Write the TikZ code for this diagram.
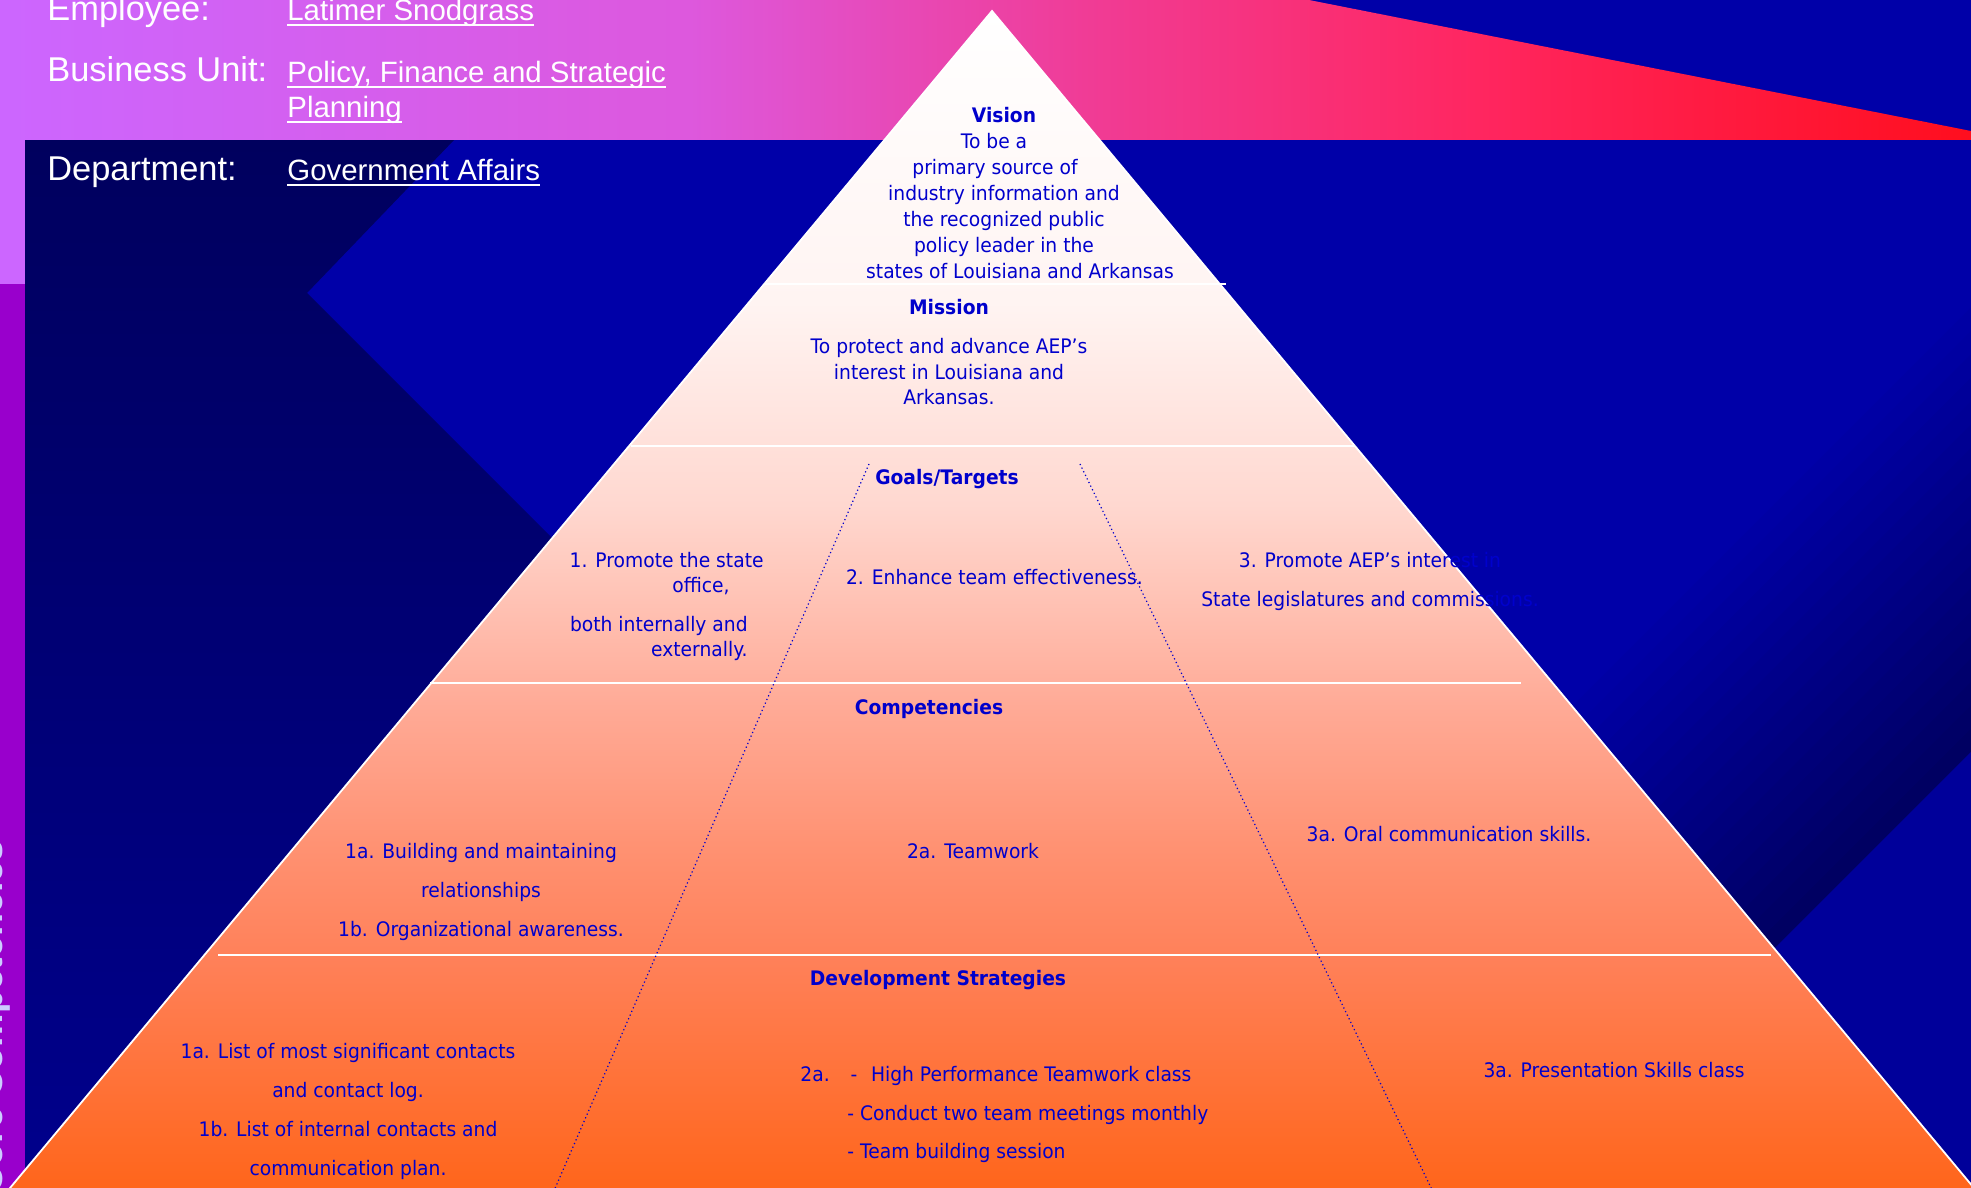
\documentclass[tikz,border=0pt]{standalone}
\usepackage{fontspec}
\usepackage{tikz}
\usetikzlibrary{calc}
\newfontfamily\hdrfont{Liberation Sans}
\newfontfamily\pyrfont{DejaVu Sans}[FakeStretch=0.935]
\definecolor{SlideNavy}{HTML}{0000A8}
\definecolor{SlideDeep}{HTML}{000062}
\definecolor{SlideCorner}{HTML}{00009A}
\definecolor{NavyTop}{HTML}{00005E}
\definecolor{NavyLow}{HTML}{00008C}
\definecolor{BandL}{HTML}{CC66FF}
\definecolor{BandM}{HTML}{DD58DD}
\definecolor{BandH}{HTML}{F03C96}
\definecolor{BandW}{HTML}{FF2660}
\definecolor{BandR}{HTML}{FF0E1E}
\definecolor{StripLite}{HTML}{CC66FF}
\definecolor{StripDark}{HTML}{9900CC}
\definecolor{StripInk}{HTML}{CCCCFF}
\definecolor{PyrC0}{HTML}{FF6418}
\definecolor{PyrC1}{HTML}{FF8058}
\definecolor{PyrC2}{HTML}{FF9070}
\definecolor{PyrC3}{HTML}{FFAA96}
\definecolor{PyrC4}{HTML}{FFD8D0}
\definecolor{PyrC5}{HTML}{FFF4F2}
\definecolor{PyrInk}{HTML}{0000CC}
% tikz fits the 25bp--75bp part of a shading to the path
\pgfdeclarehorizontalshading{bandshade}{100bp}{color(0bp)=(BandL); color(25bp)=(BandL); color(42.5bp)=(BandM); color(52.5bp)=(BandH); color(62.5bp)=(BandW); color(75bp)=(BandR); color(100bp)=(BandR)}
\pgfdeclareverticalshading{pyrshade}{100bp}{color(0bp)=(PyrC0); color(25bp)=(PyrC0); color(35bp)=(PyrC1); color(39.5bp)=(PyrC2); color(45.75bp)=(PyrC3); color(54.25bp)=(PyrC4); color(62.75bp)=(PyrC5); color(75bp)=(white); color(100bp)=(white)}
\newsavebox\hdrbox
\newcommand{\hdrline}[1]{\sbox\hdrbox{#1}\rlap{\rule[-2.3pt]{\wd\hdrbox}{1pt}}\usebox\hdrbox}

\begin{document}
\begin{tikzpicture}[x=0.5pt, y=-0.5pt,
  hdrtxt/.style={font=\hdrfont\fontsize{14.7}{17}\selectfont, text=white, inner sep=0pt, anchor=base west},
  hdrlbl/.style={hdrtxt, font=\hdrfont\fontsize{17.2}{19}\selectfont},
  tiertitle/.style={font=\pyrfont\bfseries\fontsize{10}{13}\selectfont, text=PyrInk, inner sep=0pt, anchor=base},
  tiertxt/.style={font=\pyrfont\fontsize{10}{13}\selectfont, text=PyrInk, inner sep=0pt, anchor=base},
  tierblock/.style={font=\pyrfont\fontsize{10}{#1}\selectfont, text=PyrInk, inner sep=0pt, align=center, anchor=north},
  tiersep/.style={white, line width=1pt},
  colsplit/.style={PyrInk, line width=0.6pt, dash pattern=on 0.6pt off 1.4pt}]
  \useasboundingbox (0,0) rectangle (1971,1188);
  \clip (0,0) rectangle (1971,1188);
  % slide background
  \fill[SlideNavy] (0,0) rectangle (1971,1188);
  % dark wash on the right, in thin diagonal bands
  \begin{scope}
    \clip (990,140) rectangle (1971,1188);
    \foreach \k in {0,...,19}{
      \pgfmathsetmacro\ca{2723-23.4*\k}
      \pgfmathsetmacro\cb{\ca-24.4}
      \pgfmathsetmacro\mx{100-100*\k/19}
      \fill[SlideDeep!\mx!SlideNavy] (\ca+300,-300) -- (\ca-1500,1500) -- (\cb-1500,1500) -- (\cb+300,-300) -- cycle;
    }
  \end{scope}
  \fill[SlideCorner] (1971,752) -- (1971,1188) -- (1535,1188) -- cycle;
  % dark wedge on the left
  \shade[top color=NavyTop, bottom color=NavyLow] (25,140) -- (454,140) -- (307,293) -- (1202,1188) -- (25,1188) -- cycle;
  % title band
  \shade[shading=bandshade] (0,0) -- (1309,0) -- (1971,131) -- (1971,140) -- (0,140) -- cycle;
  % side strip
  \fill[StripLite] (0,140) rectangle (25,284);
  \fill[StripDark] (0,284) rectangle (25,1188);
  \node[rotate=90, anchor=base east, inner sep=0pt, text=StripInk, font=\hdrfont\bfseries\fontsize{18.8}{20}\selectfont] (striptitle) at (3,840) {Core Competencies};

  % pyramid
  \coordinate (apex) at (992,11);
  \coordinate (baseL) at (0,1200);
  \coordinate (baseR) at (1984,1200);
  \shade[shading=pyrshade] (apex) -- (baseR) -- (baseL) -- cycle;
  \draw[white, line width=0.9pt] (baseL) -- (apex) -- (baseR);
  % tier separators
  \draw[tiersep] (764,284) -- (1226,284);
  \draw[tiersep] (631,446) -- (1355,446);
  \draw[tiersep] (430,683) -- (1521,683);
  \draw[tiersep] (218,955) -- (1771,955);
  % column splits
  \coordinate (splitLtop) at (869,464);
  \coordinate (splitLbot) at (550,1200);
  \coordinate (splitRtop) at (1080,464);
  \coordinate (splitRbot) at (1437,1200);
  \draw[colsplit] (splitLtop) -- (splitLbot);
  \draw[colsplit] (splitRtop) -- (splitRbot);

  % vision and mission
  \node[tierblock=13] (vision) at (1004,104) {\strut\textbf{Vision}\\To be a\rule{10pt}{0pt}\\primary source of\rule{9pt}{0pt}\\industry information and\\the recognized public\\policy leader in the\\\hspace*{16pt}states of Louisiana and Arkansas};
  \node[tiertitle] (missionttl) at (949,314.5) {Mission};
  \node[tierblock=12.75] (mission) at (949,335.7) {\strut To protect and advance AEP’s\\interest in Louisiana and\\Arkansas.};
  % goals
  \node[tiertitle] (goalsttl) at (947,484.5) {Goals/Targets};
  \node[tierblock=12.5, align=right, anchor=north east] (goalA) at (764,550) {\strut 1. Promote the state\\office,\rule{17pt}{0pt}};
  \node[tierblock=12.5, align=right, anchor=north east] (goalAb) at (748,614) {\strut both internally and\\externally.};
  \node[tiertxt] (goalB) at (994.5,584.5) {2. Enhance team effectiveness.};
  \node[tierblock=19.5] (goalC) at (1370,540.2) {\strut 3. Promote AEP’s interest in\\State legislatures and commissions.};
  % competencies
  \node[tiertitle] (compttl) at (929,714.5) {Competencies};
  \node[tierblock=19.5] (compA) at (481,831.2) {\strut 1a. Building and maintaining\\relationships\\1b. Organizational awareness.};
  \node[tiertxt] (compB) at (973,858.5) {2a. Teamwork};
  \node[tiertxt] (compC) at (1449,841.5) {3a. Oral communication skills.};
  % development strategies
  \node[tiertitle] (devttl) at (938,985.5) {Development Strategies};
  \node[tierblock=19.4] (devA) at (348,1031.2) {\strut 1a. List of most significant contacts\\and contact log.\\1b. List of internal contacts and\\communication plan.};
  \node[tierblock=19.25, align=left, anchor=north west] (devB) at (800,1054.5) {\strut 2a.\hspace{10.4pt}-\hspace{6.9pt}High Performance Teamwork class\\\hspace*{23.5pt}- Conduct two team meetings monthly\\\hspace*{23.5pt}- Team building session};
  \node[tiertxt] (devC) at (1614,1077.5) {3a. Presentation Skills class};

  % header
  \node[hdrlbl] (emplbl) at (47,21) {Employee:};
  \node[hdrtxt] (empval) at (287,21) {\hdrline{Latimer Snodgrass}};
  \node[hdrlbl] (unitlbl) at (47,82) {Business Unit:};
  \node[hdrtxt] (unitval) at (287,83) {\hdrline{Policy, Finance and Strategic}};
  \node[hdrtxt] (unitval2) at (287,118) {\hdrline{Planning}};
  \node[hdrlbl] (deptlbl) at (47,180) {Department:};
  \node[hdrtxt] (deptval) at (287,181) {\hdrline{Government Affairs}};
\end{tikzpicture}
\end{document}
